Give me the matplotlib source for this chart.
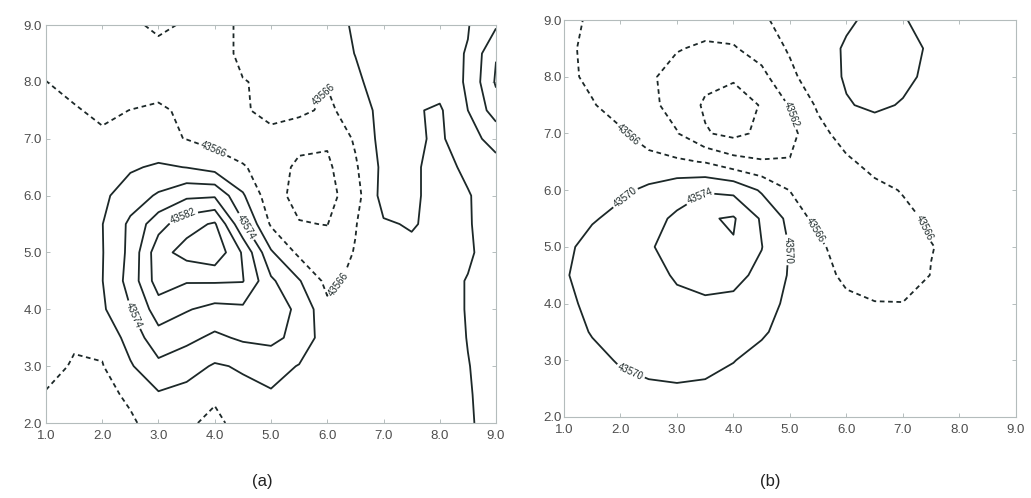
import numpy as np
import matplotlib.pyplot as plt

plt.rcParams['font.family'] = ['Liberation Sans', 'DejaVu Sans']

# grid nodes shared by both panels
x_nodes = [1.0, 1.5, 2.0, 2.5, 3.0, 3.5, 4.0, 4.5, 5.0, 5.5, 6.0, 6.5, 7.0, 7.5, 8.0, 8.5, 9.0]
y_nodes_top_down = [9.0, 8.5, 8.0, 7.5, 7.0, 6.5, 6.0, 5.5, 5.0, 4.5, 4.0, 3.5, 3.0, 2.5, 2.0]

# panel (a) field, rows from y=9.0 down to y=2.0
z_a = [
    [43564.0, 43563.6, 43563.2, 43562.5, 43561.5, 43562.3, 43564.8, 43566.6, 43567.5, 43568.2, 43569.0, 43570.3, 43571.2, 43572.0, 43573.0, 43573.8, 43577.5],
    [43564.8, 43564.2, 43563.8, 43563.3, 43562.8, 43563.3, 43564.8, 43566.6, 43567.6, 43568.3, 43568.9, 43570.05, 43571.0, 43571.8, 43572.8, 43574.2, 43581.8],
    [43566.05, 43565.0, 43564.3, 43564.0, 43563.9, 43564.2, 43565.0, 43565.9, 43566.4, 43566.3, 43566.2, 43569.6, 43571.0, 43571.6, 43571.6, 43574.5, 43582.5],
    [43566.8, 43566.3, 43565.3, 43566.05, 43566.8, 43565.0, 43564.5, 43565.6, 43567.0, 43566.8, 43565.3, 43567.6, 43571.5, 43570.4, 43569.5, 43574.0, 43580.0],
    [43567.0, 43567.0, 43566.6, 43566.8, 43566.7, 43565.9, 43564.5, 43564.0, 43565.0, 43563.5, 43562.6, 43566.5, 43571.5, 43570.8, 43569.3, 43573.0, 43575.0],
    [43567.5, 43567.8, 43568.5, 43569.5, 43570.6, 43569.9, 43568.5, 43566.3, 43564.4, 43561.0, 43561.2, 43565.5, 43571.0, 43570.5, 43569.0, 43570.6, 43573.0],
    [43567.8, 43568.5, 43569.2, 43572.0, 43574.5, 43577.2, 43577.5, 43570.5, 43563.5, 43560.8, 43560.5, 43564.5, 43571.5, 43570.5, 43569.0, 43569.8, 43571.5],
    [43567.3, 43568.3, 43569.9, 43574.8, 43580.5, 43584.5, 43586.5, 43574.5, 43565.5, 43562.2, 43561.9, 43565.8, 43569.6, 43570.3, 43569.0, 43569.8, 43571.2],
    [43567.2, 43568.2, 43569.8, 43575.0, 43584.5, 43587.5, 43589.0, 43581.5, 43570.5, 43565.1, 43564.0, 43566.2, 43568.0, 43569.2, 43569.0, 43569.7, 43571.0],
    [43567.0, 43568.0, 43569.9, 43575.5, 43584.0, 43582.3, 43582.4, 43582.2, 43574.7, 43570.3, 43564.9, 43567.0, 43568.0, 43569.0, 43569.3, 43570.1, 43571.0],
    [43566.8, 43567.6, 43569.4, 43573.9, 43580.0, 43578.3, 43576.8, 43577.2, 43576.0, 43573.2, 43567.0, 43567.2, 43568.0, 43568.8, 43569.3, 43570.1, 43571.0],
    [43566.5, 43566.4, 43567.0, 43571.5, 43576.5, 43575.0, 43573.2, 43574.6, 43575.0, 43572.8, 43567.8, 43567.5, 43568.0, 43568.6, 43569.2, 43570.05, 43570.8],
    [43567.0, 43565.7, 43565.8, 43569.6, 43573.0, 43571.5, 43569.6, 43570.4, 43571.5, 43569.8, 43567.5, 43567.2, 43567.8, 43568.5, 43569.2, 43569.95, 43570.6],
    [43565.8, 43564.5, 43565.0, 43566.6, 43569.6, 43568.8, 43567.0, 43569.0, 43569.6, 43568.3, 43567.2, 43567.0, 43567.6, 43568.4, 43569.2, 43569.9, 43570.5],
    [43564.0, 43562.8, 43563.2, 43565.5, 43567.5, 43567.0, 43564.5, 43568.5, 43569.0, 43568.0, 43567.2, 43567.0, 43567.5, 43568.3, 43569.2, 43569.85, 43570.5],
]

# panel (b) field, rows from y=9.0 down to y=2.0
z_b = [
    [43566.8, 43565.6, 43564.6, 43563.9, 43563.5, 43563.4, 43563.8, 43565.6, 43567.0, 43568.3, 43569.5, 43570.8, 43570.2, 43569.0, 43568.4, 43568.0, 43567.8],
    [43566.6, 43565.3, 43563.8, 43563.0, 43562.2, 43561.5, 43561.7, 43563.5, 43566.5, 43568.5, 43570.4, 43571.2, 43571.0, 43569.6, 43568.6, 43568.1, 43567.8],
    [43566.7, 43565.4, 43563.8, 43562.5, 43560.8, 43559.0, 43558.4, 43561.0, 43565.0, 43568.6, 43570.3, 43571.0, 43570.6, 43569.4, 43568.5, 43568.1, 43567.8],
    [43567.3, 43566.2, 43564.8, 43563.0, 43560.5, 43557.5, 43556.5, 43558.2, 43562.3, 43566.6, 43569.8, 43570.5, 43569.8, 43568.8, 43568.2, 43567.9, 43567.7],
    [43567.6, 43567.2, 43566.4, 43564.6, 43562.2, 43558.3, 43557.0, 43558.8, 43560.9, 43564.8, 43567.6, 43568.6, 43568.4, 43568.0, 43567.8, 43567.6, 43567.5],
    [43567.8, 43567.8, 43567.5, 43567.0, 43566.6, 43565.8, 43563.5, 43562.3, 43562.2, 43563.8, 43565.4, 43567.2, 43567.8, 43567.7, 43567.5, 43567.3, 43567.2],
    [43567.8, 43568.2, 43569.2, 43570.8, 43572.5, 43573.6, 43573.0, 43569.5, 43565.9, 43564.6, 43564.5, 43565.1, 43566.2, 43567.0, 43567.2, 43567.2, 43567.1],
    [43567.8, 43569.6, 43571.2, 43572.8, 43574.6, 43577.6, 43578.4, 43573.5, 43568.9, 43564.5, 43564.0, 43564.2, 43565.2, 43566.5, 43567.0, 43567.1, 43567.1],
    [43569.0, 43571.5, 43572.8, 43573.6, 43575.5, 43577.2, 43577.7, 43574.1, 43569.8, 43567.0, 43563.5, 43563.2, 43564.0, 43565.9, 43566.8, 43567.0, 43567.0],
    [43569.6, 43571.7, 43572.9, 43573.4, 43574.2, 43575.2, 43574.9, 43573.2, 43569.6, 43567.8, 43565.0, 43563.8, 43564.2, 43566.1, 43566.8, 43567.0, 43567.0],
    [43569.0, 43571.0, 43572.5, 43573.2, 43573.6, 43573.5, 43573.3, 43571.5, 43569.2, 43568.0, 43567.0, 43566.2, 43566.1, 43566.7, 43567.0, 43567.0, 43567.0],
    [43568.0, 43570.3, 43571.6, 43572.2, 43572.5, 43572.3, 43571.7, 43570.4, 43568.8, 43568.0, 43567.5, 43567.2, 43567.1, 43567.2, 43567.2, 43567.1, 43567.0],
    [43567.2, 43568.8, 43570.4, 43571.0, 43571.2, 43571.0, 43570.1, 43569.0, 43568.3, 43567.8, 43567.5, 43567.3, 43567.2, 43567.2, 43567.2, 43567.1, 43567.0],
    [43566.8, 43567.6, 43568.8, 43569.5, 43569.7, 43569.5, 43569.0, 43568.4, 43567.9, 43567.6, 43567.4, 43567.3, 43567.2, 43567.2, 43567.2, 43567.1, 43567.0],
    [43566.6, 43567.2, 43568.0, 43568.5, 43568.7, 43568.6, 43568.3, 43567.9, 43567.6, 43567.4, 43567.3, 43567.2, 43567.2, 43567.1, 43567.1, 43567.0, 43567.0],
]

levels_a = [43562, 43566, 43570, 43574, 43578, 43582, 43586]
levels_b = [43558, 43562, 43566, 43570, 43574, 43578]

# where the inline labels sit (data coords)
labels_a = [(3.95, 6.75), (5.9, 7.8), (6.2, 4.45), (3.45, 5.62), (4.55, 5.45), (2.45, 3.85)]
labels_b = [(2.15, 7.0), (5.45, 5.3), (7.4, 5.35), (4.95, 7.3), (2.1, 5.85), (2.2, 2.85), (4.94, 4.95), (3.4, 5.9)]

x_ticks = [1.0, 2.0, 3.0, 4.0, 5.0, 6.0, 7.0, 8.0, 9.0]
y_ticks = [2.0, 3.0, 4.0, 5.0, 6.0, 7.0, 8.0, 9.0]

LINE = '#1c2828'
DASH = (0, (2.6, 2.0))


def draw_panel(ax, z_rows, levels, label_pos, ypad):
    z = np.array(z_rows)[::-1]
    y = np.array(y_nodes_top_down)[::-1]
    styles = [DASH if lv < 43568 else 'solid' for lv in levels]
    cs = ax.contour(x_nodes, y, z, levels=levels, colors=LINE,
                    linewidths=1.3, linestyles=styles)
    ax.clabel(cs, fmt='%d', fontsize=7, inline=True, inline_spacing=2,
              manual=label_pos)

    ax.set_xlim(1, 9)
    ax.set_ylim(2, 9)
    ax.set_xticks(x_ticks)
    ax.set_xticklabels([f'{t:.1f}' for t in x_ticks])
    ax.set_yticks(y_ticks)
    ax.set_yticklabels([f'{t:.1f}' for t in y_ticks])
    ax.tick_params(direction='in', length=3, width=0.6, color='#a9b3b3',
                   labelsize=9.5, labelcolor='#4d4d4d', top=True, right=True)
    ax.tick_params(axis='x', pad=5)
    ax.tick_params(axis='y', pad=ypad)
    for sp in ax.spines.values():
        sp.set_color('#b4bcbc')
        sp.set_linewidth(0.8)


fig = plt.figure(figsize=(10.31, 4.98), dpi=100)
ax_a = fig.add_axes([0.0446, 0.1506, 0.4365, 0.799])
ax_b = fig.add_axes([0.547, 0.1627, 0.4384, 0.797])

draw_panel(ax_a, z_a, levels_a, labels_a, 3)
draw_panel(ax_b, z_b, levels_b, labels_b, 1.5)

fig.text(0.254, 0.033, '(a)', ha='center', va='center', fontsize=12, color='#222222')
fig.text(0.747, 0.033, '(b)', ha='center', va='center', fontsize=12, color='#222222')

fig.savefig('out.png', dpi=100)
